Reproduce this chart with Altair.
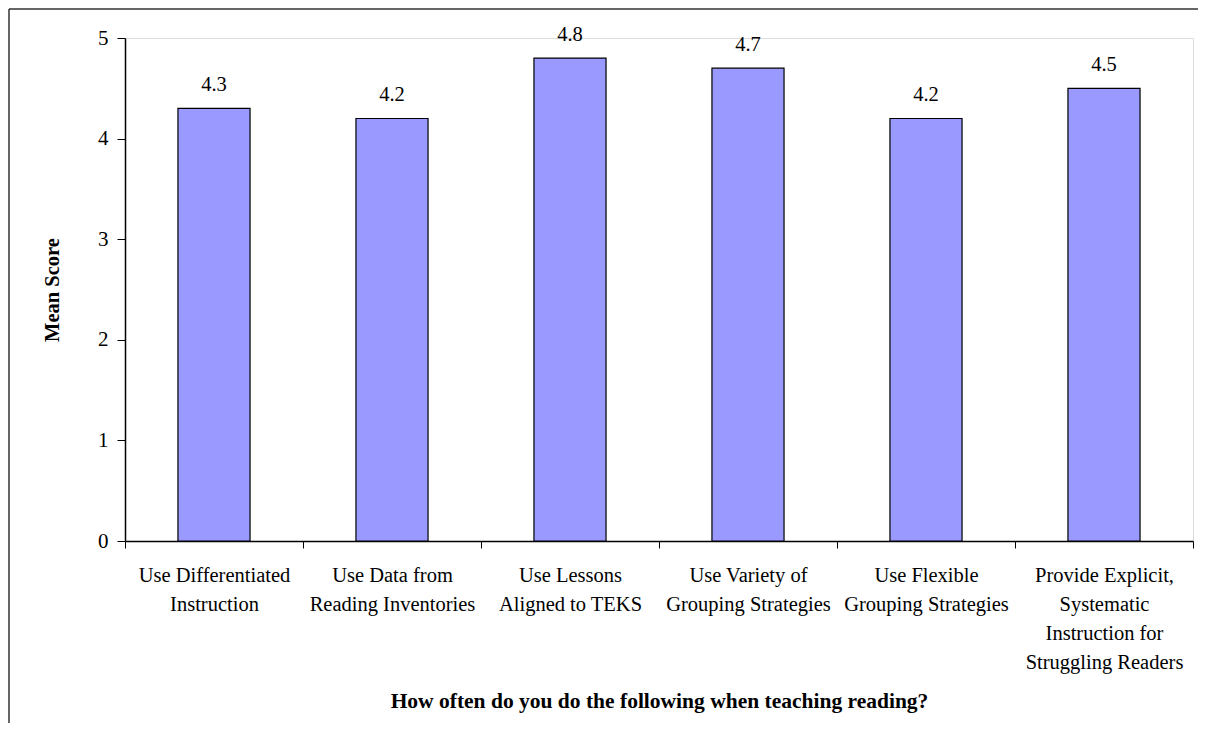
import altair as alt
import pandas as pd

categories = [
    "Use Differentiated\nInstruction",
    "Use Data from\nReading Inventories",
    "Use Lessons\nAligned to TEKS",
    "Use Variety of\nGrouping Strategies",
    "Use Flexible\nGrouping Strategies",
    "Provide Explicit,\nSystematic\nInstruction for\nStruggling Readers",
]
scores = [4.3, 4.2, 4.8, 4.7, 4.2, 4.5]
y_ticks = [0, 1, 2, 3, 4, 5]

df = pd.DataFrame({"cat": categories, "score": scores})
df["label"] = df["score"].map(lambda v: f"{v:.1f}")

FONT = "Liberation Serif"

x_enc = alt.X(
    "cat:N",
    sort=categories,
    scale=alt.Scale(paddingInner=0, paddingOuter=0),
    axis=alt.Axis(
        title="How often do you do the following when teaching reading?",
        titleFont=FONT, titleFontSize=21.5, titleFontWeight="bold", titleColor="black",
        titleY=166, titleBaseline="alphabetic",
        labelExpr="split(datum.label, '\\n')",
        labelFont=FONT, labelFontSize=20.5, labelColor="black", labelAngle=0,
        labelLineHeight=29, labelPadding=17, labelLimit=400,
        tickBand="extent", tickSize=7, tickColor="black",
        domainColor="black", domainWidth=1.5,
    ),
)
y_enc = alt.Y(
    "score:Q",
    scale=alt.Scale(domain=[0, 5], nice=False),
    axis=alt.Axis(
        title="Mean Score", values=y_ticks, format="d",
        titleFont=FONT, titleFontSize=20.5, titleFontWeight="bold", titleColor="black",
        titleX=-73, titleBaseline="middle",
        labelFont=FONT, labelFontSize=21, labelColor="black", labelPadding=9,
        tickSize=8, tickColor="black", domainColor="black", domainWidth=1.5,
        grid=False,
    ),
)

bars = alt.Chart(df).mark_bar(
    color="#9999FF", stroke="black", strokeWidth=1.2, width=alt.RelativeBandSize(0.405)
).encode(x=x_enc, y=y_enc)

texts = alt.Chart(df).mark_text(
    font=FONT, fontSize=20.5, color="black", baseline="alphabetic", dy=-17
).encode(x=alt.X("cat:N", sort=categories), y="score:Q", text="label:N")

border_data = alt.Data(values=[{"k": 1}])
left_border = alt.Chart(border_data).mark_rule(color="#333333", strokeWidth=1.5).encode(
    x=alt.value(-116), y=alt.value(-29), y2=alt.value(700)
)
top_border = alt.Chart(border_data).mark_rule(color="#333333", strokeWidth=1.5).encode(
    x=alt.value(-116), x2=alt.value(1080), y=alt.value(-29)
)

chart = alt.layer(bars, texts, left_border, top_border).properties(
    width=1068, height=503,
    autosize=alt.AutoSizeParams(type="none"),
    padding={"left": 117, "top": 30, "right": 5, "bottom": 182},
).configure_view(stroke="#808080", strokeWidth=1.5).configure(background="white")

chart.save("out.html", embed_options={"renderer": "svg", "actions": False})
